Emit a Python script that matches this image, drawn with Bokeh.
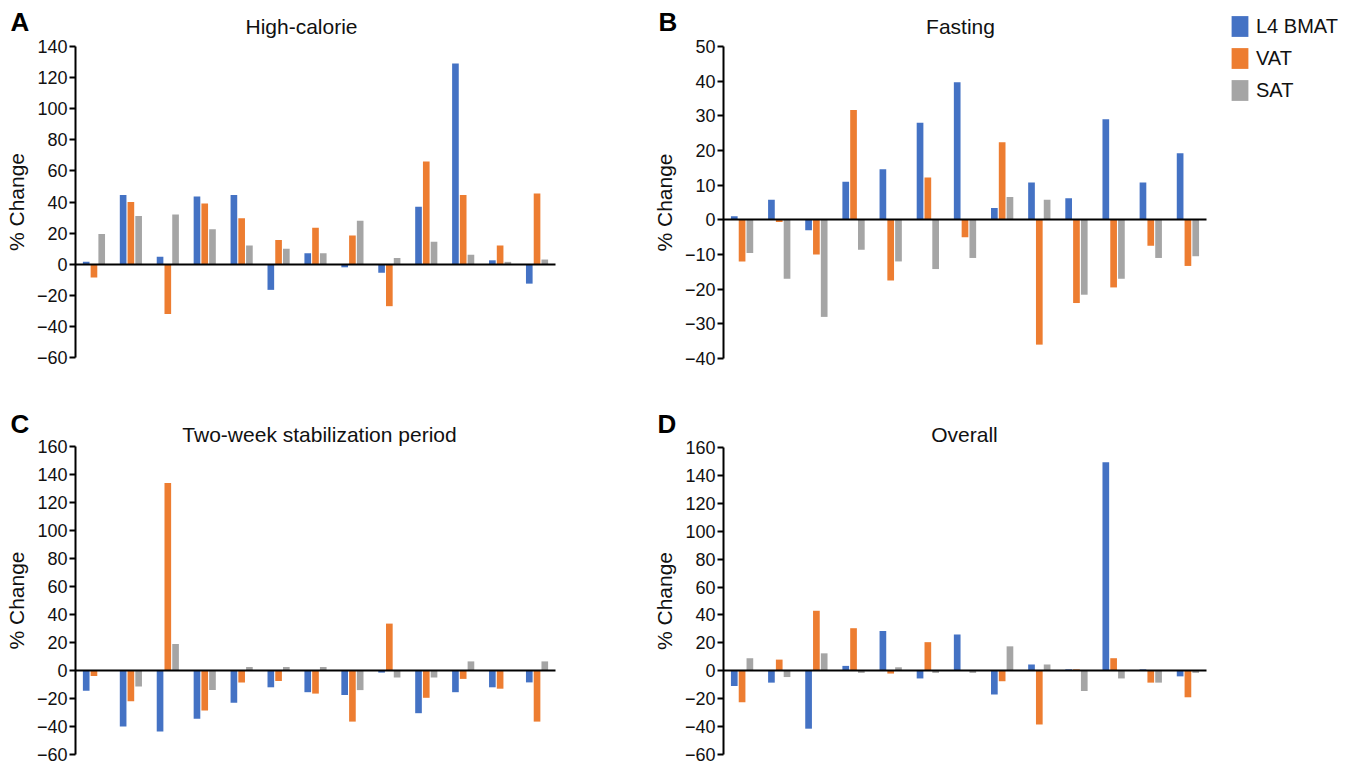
from bokeh.plotting import figure
from bokeh.layouts import column, row
from bokeh.models import Range1d, FixedTicker, Label, Legend, LegendItem
from bokeh.embed import file_html
from bokeh.resources import INLINE
import numpy as np

# ---------------- data ----------------
series = ["L4 BMAT", "VAT", "SAT"]
colors = ["#4472C4", "#ED7D31", "#A5A5A5"]
groups = list(range(13))

a_bmat = [1.5, 44.5, 4.8, 43.5, 44.5, -16.5, 7, -2, -5.5, 37, 129, 2.5, -12.5]
a_vat = [-8.5, 40, -32, 39, 29.5, 15.5, 23.5, 18.5, -27, 66, 44.5, 12, 45.5]
a_sat = [19.5, 31, 32, 22.5, 12, 10, 7, 28, 4, 14.5, 6, 1.5, 3]

b_bmat = [1, 5.8, -3, 11, 14.6, 28, 39.7, 3.4, 10.8, 6.2, 29, 10.8, 19.2]
b_vat = [-12, -0.6, -10, 31.7, -17.5, 12.2, -5, 22.4, -36, -24, -19.5, -7.5, -13.3]
b_sat = [-9.6, -17, -28, -8.6, -12, -14.2, -11, 6.6, 5.8, -21.6, -17, -11, -10.5]

c_bmat = [-14.5, -40, -43.5, -34.5, -23, -12, -15.5, -17.5, -1.5, -30.5, -15.5, -12, -8.5]
c_vat = [-4, -22, 134, -28.5, -8.5, -7.5, -16.5, -36.5, 33.5, -19.5, -6, -13, -36.5]
c_sat = [0, -11.5, 19, -14, 2.5, 2.5, 2.5, -14, -5, -5, 6.5, 0, 6.5]

d_bmat = [-11, -8.5, -41.5, 3.5, 28.5, -5.5, 26, -17, 4.5, 1, 149.5, 1, -4]
d_vat = [-22.5, 8, 43, 30.5, -2, 20.5, 0, -7.5, -38.5, 1, 9, -8.5, -19]
d_sat = [9, -4.5, 12.5, -1.5, 2.5, -1.5, -1.5, 17.5, 4.5, -14.5, -5.5, -8.5, -1.5]

a_ticks = list(range(-60, 141, 20))
b_ticks = list(range(-40, 51, 10))
cd_ticks = list(range(-60, 161, 20))

FONT = "Liberation Sans"
TXT = "#111111"


def panel(letter, title, data, ticks, width, height,
          ax_px, end_px, top_px, bot_px,
          title_cx, title_base, letter_x, letter_top):
    """ax_px/end_px: pixel x of the y-axis and of the zero-line end;
    top_px/bot_px: pixel y of the top and bottom ticks (from canvas top)."""
    n = len(groups)
    x0, x1 = -0.5, n - 0.5
    sx = (end_px - ax_px) / (x1 - x0)
    y0, y1 = ticks[0], ticks[-1]
    sy = (bot_px - top_px) / (y1 - y0)
    xr = Range1d(x0 - ax_px / sx, x1 + (width - end_px) / sx)
    yr = Range1d(y0 - (height - bot_px) / sy, y1 + top_px / sy)

    p = figure(width=width, height=height, x_range=xr, y_range=yr,
               output_backend="svg", toolbar_location=None, min_border=0)
    p.outline_line_color = None
    p.xgrid.visible = False
    p.ygrid.visible = False
    p.background_fill_color = "white"
    p.border_fill_color = "white"

    idx = np.array(groups, dtype=float)
    renderers = []
    for k, (vals, col) in enumerate(zip(data, colors)):
        r = p.vbar(x=idx + (k - 1) * 0.21, top=vals, bottom=0, width=0.18,
                   fill_color=col, line_color=None)
        renderers.append(r)

    ax = p.yaxis[0]
    ax.fixed_location = x0
    ax.bounds = (y0, y1)
    ax.ticker = FixedTicker(ticks=ticks)
    ax.axis_label = "% Change"
    ax.axis_label_text_font = FONT
    ax.axis_label_text_font_size = "21px"
    ax.axis_label_text_font_style = "normal"
    ax.axis_label_text_color = TXT
    ax.axis_label_standoff = 6
    ax.major_label_text_font = FONT
    ax.major_label_text_font_size = "18px"
    ax.major_label_text_color = TXT
    ax.major_label_standoff = 2
    ax.major_tick_out = 6
    ax.major_tick_in = 0
    ax.minor_tick_out = 0
    ax.minor_tick_in = 0
    ax.axis_line_width = 2
    ax.axis_line_color = "black"
    ax.major_tick_line_width = 2
    ax.major_tick_line_color = "black"

    xa = p.xaxis[0]
    xa.fixed_location = 0
    xa.bounds = (x0, x1)
    xa.ticker = FixedTicker(ticks=[])
    xa.major_tick_out = 0
    xa.major_tick_in = 0
    xa.minor_tick_out = 0
    xa.minor_tick_in = 0
    xa.axis_line_width = 2
    xa.axis_line_color = "black"

    p.add_layout(Label(x=letter_x, y=height - letter_top, x_units="screen", y_units="screen",
                       text=letter, text_font=FONT, text_font_size="26px",
                       text_font_style="bold", text_color="black", text_baseline="top"))
    p.add_layout(Label(x=title_cx, y=height - title_base, x_units="screen", y_units="screen",
                       text=title, text_font=FONT, text_font_size="21px",
                       text_color=TXT, text_align="center", text_baseline="alphabetic"))
    return p, renderers


pa, _ = panel("A", "High-calorie", [a_bmat, a_vat, a_sat], a_ticks,
              640, 385, 75, 555, 46, 357, 301, 26, 10, 6)
pb, rb = panel("B", "Fasting", [b_bmat, b_vat, b_sat], b_ticks,
               716, 385, 83, 566, 46, 358, 320, 26, 18, 6)
pc, _ = panel("C", "Two-week stabilization period", [c_bmat, c_vat, c_sat], cd_ticks,
              640, 380, 75, 555, 61, 369, 319, 49, 10, 23)
pd, _ = panel("D", "Overall", [d_bmat, d_vat, d_sat], cd_ticks,
              716, 380, 83, 566, 62, 369, 324, 49, 17, 23)

legend = Legend(items=[LegendItem(label=s, renderers=[r]) for s, r in zip(series, rb)],
                location=(589, 282), orientation="vertical",
                glyph_width=21, glyph_height=26, spacing=6, padding=0, margin=0,
                label_standoff=6, label_text_font=FONT, label_text_font_size="20px",
                label_text_color=TXT, border_line_color=None,
                background_fill_alpha=0)
pb.add_layout(legend, "center")

layout = column(row(pa, pb), row(pc, pd))
open("out.html", "w").write(file_html(layout, INLINE))
